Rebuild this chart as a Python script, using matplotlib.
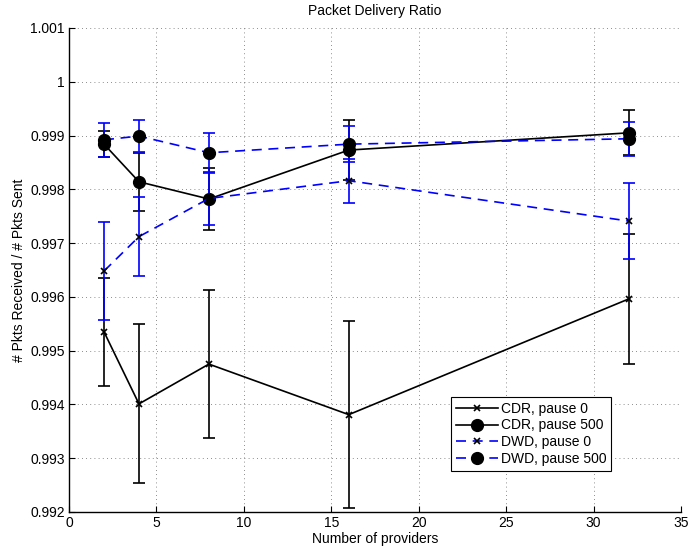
import numpy as np
import matplotlib
matplotlib.use("Agg")
import matplotlib.pyplot as plt
from matplotlib.ticker import FuncFormatter

plt.rcParams['font.family'] = ['Liberation Sans', 'DejaVu Sans']
plt.rcParams['font.size'] = 10

providers = [2, 4, 8, 16, 32]

cdr_p0 = [0.99535, 0.99401, 0.99475, 0.99381, 0.99596]
cdr_p0_err = [0.00100, 0.00148, 0.00138, 0.00174, 0.00120]

cdr_p500 = [0.99884, 0.99814, 0.99782, 0.99873, 0.99905]
cdr_p500_err = [0.00024, 0.00054, 0.00058, 0.00055, 0.00042]

dwd_p0 = [0.99648, 0.99712, 0.99783, 0.99816, 0.99741]
dwd_p0_err = [0.00091, 0.00073, 0.00049, 0.00041, 0.00071]

dwd_p500 = [0.99892, 0.99899, 0.99868, 0.99884, 0.99894]
dwd_p500_err = [0.00032, 0.00030, 0.00037, 0.00033, 0.00032]

fig = plt.figure(figsize=(6.91, 5.52), dpi=100)
ax = fig.add_axes([0.0999, 0.0725, 0.8856, 0.8768])

dash = (0, (6, 4))
common = dict(capsize=4, elinewidth=1.2, capthick=1.2, lw=1.2)

bars = []
bars.append(ax.errorbar(providers, cdr_p0, yerr=cdr_p0_err, color='k', ecolor='k',
                        marker='x', ms=5, mew=1.2, label='CDR, pause 0', **common))
bars.append(ax.errorbar(providers, cdr_p500, yerr=cdr_p500_err, color='k', ecolor='k',
                        marker='o', ms=8.5, mfc='k', mec='k', label='CDR, pause 500',
                        **common))
bars.append(ax.errorbar(providers, dwd_p0, yerr=dwd_p0_err, color='b', ecolor='b',
                        ls=dash, marker='x', ms=5, mew=1.2, mec='k',
                        label='DWD, pause 0', **common))
bars.append(ax.errorbar(providers, dwd_p500, yerr=dwd_p500_err, color='b', ecolor='b',
                        ls=dash, marker='o', ms=8.5, mfc='k', mec='k',
                        label='DWD, pause 500', **common))

ax.set_xlim(0, 35)
ax.set_ylim(0.992, 1.001)
ax.set_xticks(np.arange(0, 36, 5))
ax.set_yticks(np.arange(0.992, 1.0011, 0.001))
ax.yaxis.set_major_formatter(FuncFormatter(lambda v, p: '%g' % round(v, 3)))

ax.grid(True, ls=(0, (1, 4)), color='k', lw=0.6, alpha=0.6)
for s in ('top', 'right'):
    ax.spines[s].set_visible(False)
ax.spines['left'].set_linewidth(1.0)
ax.spines['bottom'].set_linewidth(1.0)
ax.tick_params(direction='in', length=4, width=0.8, labelsize=10, pad=3)

ax.set_title('Packet Delivery Ratio', fontsize=10, pad=9)
ax.set_xlabel('Number of providers', fontsize=10, labelpad=1)
ax.set_ylabel('# Pkts Received / # Pkts Sent', fontsize=10, labelpad=3)

# legend shows only line + marker, no error bar glyphs
handles = [b[0] for b in bars]
labels = [b.get_label() for b in bars]
leg = ax.legend(handles, labels, loc='lower right', bbox_to_anchor=(0.886, 0.085),
                fancybox=False, framealpha=1, edgecolor='k', fontsize=10,
                borderpad=0.35, labelspacing=0.2, handlelength=3.0,
                handletextpad=0.2, borderaxespad=0)
leg.get_frame().set_linewidth(0.8)

fig.savefig('out.png', dpi=100)
